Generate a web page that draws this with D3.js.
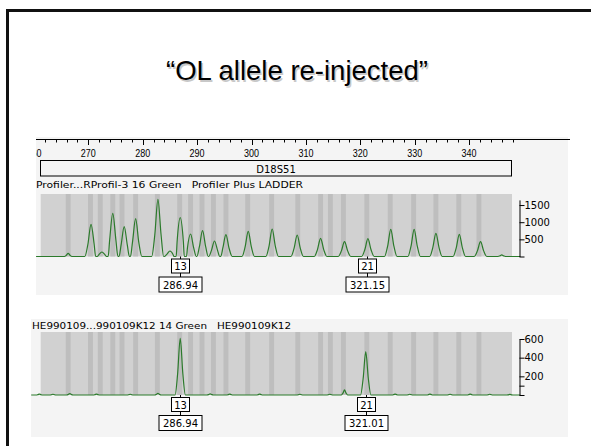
<!DOCTYPE html>
<html>
<head>
<meta charset="utf-8">
<script src="https://cdn.jsdelivr.net/npm/d3@7"></script>
<style>
  body { margin: 0; background: #fff; }
  svg { display: block; }
  .mono { font-family: "DejaVu Sans", sans-serif; white-space: pre; }
</style>
</head>
<body>
<svg id="chart" width="591" height="446"></svg>
<script>
// ---- data ----
const title = "\u201COL allele re-injected\u201D"
const locusName = "D18S51"
const rulerLabels = [260, 270, 280, 290, 300, 310, 320, 330, 340]

// allele bins (dark stripes), bp
const binBp = [266.3, 270.4, 272.2, 274.5, 276.2, 278.7, 282.7, 286.8, 288.8, 290.9,
  293.0, 295.3, 299.3, 303.7, 308.5, 312.7, 314.5, 316.9, 321.2, 325.5, 329.8, 333.9, 338.1, 341.8]

// ladder lane peaks
const ladderLabel = "Profiler...RProfil-3 16 Green   Profiler Plus LADDER"
const ladderBp = [266.3, 270.5, 272.5, 274.5, 276.6, 278.7, 282.8, 285.0, 286.9, 288.8, 291.0,
  293.2, 295.3, 299.4, 303.8, 308.4, 312.7, 317.1, 321.4, 325.6, 329.9, 333.9, 338.2, 342.1, 346.0]
const ladderHeight = [93, 939, 131, 1259, 869, 1102, 1668, 160, 1131, 656, 752,
  452, 636, 735, 802, 627, 531, 431, 519, 793, 793, 676, 647, 431, 45]
const ladderTicks = [0, 500, 1000, 1500]
const ladderCalls = [{ allele: "13", size: "286.94", bp: 286.94 }, { allele: "21", size: "321.15", bp: 321.15 }]

// sample lane peaks
const sampleLabel = "HE990109...990109K12 14 Green   HE990109K12"
const sampleBp = [261.0, 263.5, 266.6, 271.5, 277.7, 282.8, 286.9, 292.4, 296.0, 301.5, 308.9,
  314.4, 317.1, 321.0, 326.4, 329.1, 332.8, 336.5, 340.2, 343.8, 347.5]
const sampleHeight = [10, 8, 15, 10, 8, 18, 608, 12, 10, 10, 8,
  8, 54, 464, 10, 8, 10, 8, 10, 8, 6]
const sampleTicks = [0, 100, 200, 400, 600]
const sampleCalls = [{ allele: "13", size: "286.94", bp: 286.94 }, { allele: "21", size: "321.01", bp: 321.01 }]

// ---- drawing ----
const green = "#2b7a2b"
const svg = d3.select("#chart")
const x = d3.scaleLinear().domain([260, 350]).range([33.9, 523.5])

// slide frame
svg.append("rect").attr("x", 7.5).attr("y", 10.5).attr("width", 600).attr("height", 450)
  .attr("fill", "none").attr("stroke", "#111").attr("stroke-width", 3)

// title with soft shadow
const tt = svg.append("g").attr("font-family", "Liberation Sans, Arial, sans-serif")
  .attr("font-size", 27.5).attr("text-anchor", "middle")
tt.append("text").attr("x", 298.5).attr("y", 81.5).attr("fill", "#c8c8c8").text(title)
tt.append("text").attr("x", 297).attr("y", 80).attr("fill", "#000").text(title)

// panel backgrounds
svg.append("rect").attr("x", 36).attr("y", 137).attr("width", 532).attr("height", 158).attr("fill", "#f4f4f4")
svg.append("rect").attr("x", 31).attr("y", 319).attr("width", 537).attr("height", 118).attr("fill", "#f4f4f4")

// ruler
svg.append("defs").append("clipPath").attr("id", "rclip")
  .append("rect").attr("x", 36).attr("y", 130).attr("width", 540).attr("height", 40)
const ruler = svg.append("g").attr("clip-path", "url(#rclip)")
ruler.append("line").attr("x1", 36).attr("x2", 570).attr("y1", 139.5).attr("y2", 139.5)
  .attr("stroke", "#000").attr("stroke-width", 1)
ruler.selectAll("line.tick").data(d3.range(260, 349, 2)).join("line").attr("class", "tick")
  .attr("x1", d => Math.round(x(d)) + 0.5).attr("x2", d => Math.round(x(d)) + 0.5)
  .attr("y1", 139.5).attr("y2", d => d % 10 === 0 ? 145 : 142.5)
  .attr("stroke", "#000").attr("stroke-width", 1)
ruler.selectAll("text").data(rulerLabels).join("text")
  .attr("x", d => x(d)).attr("y", 157).attr("text-anchor", "middle")
  .attr("font-family", "Liberation Sans, Arial, sans-serif").attr("font-size", 10.5)
  .attr("textLength", 15).attr("lengthAdjust", "spacingAndGlyphs")
  .text(d => d)

// locus box
svg.append("rect").attr("x", 40.5).attr("y", 160.5).attr("width", 471).attr("height", 15.5)
  .attr("fill", "#f4f4f4").attr("stroke", "#000")
svg.append("text").attr("class", "mono").attr("x", 276).attr("y", 172.5)
  .attr("text-anchor", "middle").attr("font-size", 10).text(locusName)

function peakPoints(bps, hs, start, end, w) {
  const pts = [[start, 0], [end, 0]]
  bps.forEach((b, i) => {
    const h = hs[i]
    const ww = h < 100 ? w * 0.6 : w
    pts.push([b - ww, 0], [b - ww * 0.5, h * 0.38], [b, h], [b + ww * 0.5, h * 0.38], [b + ww, 0])
  })
  return pts.sort((a, b) => a[0] - b[0])
}

function lane(cfg) {
  const g = svg.append("g")
  g.append("text").attr("class", "mono").attr("x", cfg.labelX).attr("y", cfg.labelY)
    .attr("font-size", 9.5).attr("textLength", cfg.labelLen).attr("lengthAdjust", "spacingAndGlyphs")
    .text(cfg.label)

  const y = d3.scaleLinear().domain([0, cfg.yMax]).range([cfg.base, cfg.axisTop])

  // plot area and bins
  g.append("rect").attr("x", 40.7).attr("y", cfg.plotTop).attr("width", 471.3)
    .attr("height", cfg.base - cfg.plotTop).attr("fill", "#d1d1d1")
  g.selectAll("rect.bin").data(binBp).join("rect").attr("class", "bin")
    .attr("x", d => x(d - 0.45)).attr("width", x(0.9) - x(0))
    .attr("y", cfg.plotTop).attr("height", cfg.base - cfg.plotTop).attr("fill", "#bebebe")

  // trace
  const line = d3.line().x(d => x(d[0])).y(d => y(d[1])).curve(d3.curveMonotoneX)
  g.append("path").attr("d", line(peakPoints(cfg.bp, cfg.h, cfg.start, cfg.end, cfg.w)))
    .attr("fill", "none").attr("stroke", green).attr("stroke-width", 1.2)

  // axis
  const ax = g.append("g").attr("transform", `translate(519.5,0)`)
    .call(d3.axisRight(y).tickValues(cfg.ticks).tickSize(5).tickSizeOuter(0)
      .tickFormat(d => cfg.labelled.includes(d) ? d : ""))
  ax.selectAll("text").attr("font-family", "DejaVu Sans, sans-serif").attr("font-size", 10)
    .attr("x", 5).attr("fill", "#000")
  ax.selectAll("line, path").attr("stroke", "#000")

  // allele calls
  cfg.calls.forEach(c => {
    const cx = Math.round(x(c.bp)) + 0.5
    const b1 = cfg.base + 2.5, b2 = b1 + 18
    g.append("line").attr("x1", cx).attr("x2", cx).attr("y1", cfg.base).attr("y2", b2)
      .attr("stroke", "#000")
    g.append("rect").attr("x", cx - 9).attr("y", b1).attr("width", 18).attr("height", 14)
      .attr("fill", "#fff").attr("stroke", "#000")
    g.append("text").attr("class", "mono").attr("x", cx).attr("y", b1 + 11)
      .attr("text-anchor", "middle").attr("font-size", 10).text(c.allele)
    g.append("rect").attr("x", cx - 21.5).attr("y", b2).attr("width", 43).attr("height", 15)
      .attr("fill", "#fff").attr("stroke", "#000")
    g.append("text").attr("class", "mono").attr("x", cx).attr("y", b2 + 11.5)
      .attr("text-anchor", "middle").attr("font-size", 10).text(c.size)
  })
}

lane({
  label: ladderLabel, labelX: 36, labelY: 188, labelLen: 267,
  plotTop: 194, base: 256.5, axisTop: 199.9, yMax: 1650,
  ticks: ladderTicks, labelled: [500, 1000, 1500],
  bp: ladderBp, h: ladderHeight, start: 260.4, end: 349.4, w: 1.15,
  calls: ladderCalls
})

lane({
  label: sampleLabel, labelX: 32, labelY: 329, labelLen: 259,
  plotTop: 332, base: 395, axisTop: 339, yMax: 600,
  ticks: sampleTicks, labelled: [200, 400, 600],
  bp: sampleBp, h: sampleHeight, start: 259.5, end: 349.4, w: 0.95,
  calls: sampleCalls
})
</script>
</body>
</html>
